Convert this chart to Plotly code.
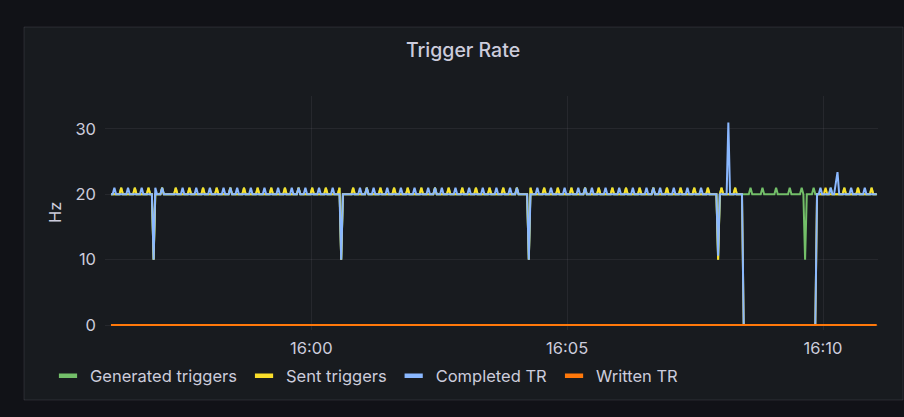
import plotly.graph_objects as go
import pandas as pd

# ---------------- data ----------------
series_names = ["Generated triggers", "Sent triggers", "Completed TR", "Written TR"]
series_colors = ["#73BF69", "#FADE2A", "#8AB8FF", "#FF780A"]

start_time = "2024-01-01 15:56:05"
n_samples = 450
step_seconds = 2
x_range = ["2024-01-01 15:55:58", "2024-01-01 16:11:04.5"]

baseline_rate = 20
spike_rate = 21
written_rate = 0

# sample indices where the rate briefly reads 21 Hz
gen_spike_idx = [6, 14, 22, 30, 38, 46, 54, 62, 70, 78, 86, 94, 102, 110, 118, 126,
                 134, 142, 150, 158, 166, 174, 182, 190, 198, 206, 214, 222, 230, 238,
                 246, 254, 262, 270, 278, 286, 294, 302, 310, 318, 326, 334, 342, 350,
                 358, 366, 375, 382, 390, 398, 405, 412, 422, 430, 438, 446]
sent_spike_idx = [6, 14, 22, 30, 38, 46, 54, 62, 70, 78, 86, 94, 102, 110, 118, 126,
                  134, 142, 150, 158, 166, 174, 182, 190, 198, 206, 214, 222, 230, 238,
                  246, 254, 262, 270, 278, 286, 294, 302, 310, 318, 326, 334, 342, 350,
                  358, 366, 419, 430, 438, 446]
completed_spike_idx = [2, 10, 18, 26, 30, 42, 50, 58, 66, 70, 74, 82, 90, 98, 106, 110,
                       114, 122, 130, 146, 150, 154, 162, 170, 178, 186, 190, 194, 202,
                       210, 218, 226, 234, 238, 250, 258, 266, 274, 278, 282, 290, 298,
                       306, 314, 318, 322, 330, 338, 346, 416, 422, 434, 442]

# (sample index, value) readings for dips / peaks
gen_events = [(25, 10), (135, 10), (245, 10), (356, 10), (407, 10)]
sent_events = [(25, 10), (135, 10), (245, 10), (356, 10)]
completed_events = [(25, 10), (135, 10), (245, 10), (356, 10.6), (362, 31),
                    (425, 21.6), (426, 23.4)]
# outage window (inclusive sample indices) where sent / completed read 0
outage_first, outage_last = 371, 413


def build(spikes, events, outage=None):
    vals = [baseline_rate] * n_samples
    for i in spikes:
        vals[i] = spike_rate
    if outage:
        for i in range(outage[0], outage[1] + 1):
            vals[i] = 0
    for i, v in events:
        vals[i] = v
    return vals


times = pd.date_range(start_time, periods=n_samples, freq=f"{step_seconds}s")
generated = build(gen_spike_idx, gen_events)
sent = build(sent_spike_idx, sent_events, (outage_first, outage_last))
completed = build(completed_spike_idx, completed_events, (outage_first, outage_last))
written = [written_rate] * n_samples
all_series = [generated, sent, completed, written]

# ---------------- figure ----------------
FONT = "Inter"
TXT = "#ccccdc"
W, H = 904, 417
ML, MR, MT, MB = 105, 26, 96, 87
PW, PH = W - ML - MR, H - MT - MB


def px_x(x):
    return (x - ML) / PW


def px_y(y):
    return (H - MB - y) / PH


fig = go.Figure()
for name, color, vals in zip(series_names, series_colors, all_series):
    fig.add_trace(go.Scatter(x=times, y=vals, name=name, mode="lines",
                             line=dict(color=color, width=2),
                             showlegend=False, hoverinfo="skip"))
# legend swatches
for name, color in zip(series_names, series_colors):
    fig.add_trace(go.Scatter(x=[None], y=[None], name=name, mode="markers",
                             marker=dict(symbol="line-ew", size=13, color=color,
                                         line=dict(color=color, width=4.5)),
                             showlegend=True))

fig.update_layout(
    width=W, height=H,
    margin=dict(l=ML, r=MR, t=MT, b=MB),
    paper_bgcolor="#111217",
    plot_bgcolor="rgba(0,0,0,0)",
    font=dict(family=FONT, color=TXT, size=16),
    title=dict(text="Trigger Rate", x=463 / W, y=1 - 50 / H, xref="container",
               yref="container", xanchor="center", yanchor="middle",
               font=dict(family=FONT, size=19.5, color=TXT, weight=500)),
    xaxis=dict(type="date", range=x_range, tickformat="%H:%M",
               dtick=300000, tick0="2024-01-01 16:00:00",
               showgrid=True, gridcolor="rgba(204,204,220,0.08)", gridwidth=1,
               zeroline=False, showline=False, ticks="", ticklabelstandoff=6,
               tickfont=dict(family=FONT, size=16.5, color=TXT)),
    yaxis=dict(range=[-0.765, 35.05], tickvals=[0, 10, 20, 30],
               showgrid=True, gridcolor="rgba(204,204,220,0.08)", gridwidth=1,
               zeroline=False, showline=False, ticks="", ticklabelstandoff=8,
               tickfont=dict(family=FONT, size=16.5, color=TXT)),
    legend=dict(orientation="h", x=px_x(46), y=px_y(376), xanchor="left",
                yanchor="middle", bgcolor="rgba(0,0,0,0)", itemwidth=34,
                font=dict(family=FONT, size=16.5, color=TXT)),
    shapes=[dict(type="rect", xref="paper", yref="paper", layer="below",
                 x0=px_x(24), x1=px_x(903), y0=px_y(400), y1=px_y(27),
                 fillcolor="#181b1f", line=dict(color="rgba(204,204,220,0.12)", width=1))],
    annotations=[dict(text="Hz", xref="paper", yref="paper", x=px_x(55), y=px_y(213),
                      textangle=-90, showarrow=False, xanchor="center", yanchor="middle",
                      font=dict(family=FONT, size=16.5, color=TXT))],
)

fig.write_html(
    "out.html",
    config={"displayModeBar": False},
    post_script="document.body.style.margin='0';document.body.style.background='#111217';",
)
